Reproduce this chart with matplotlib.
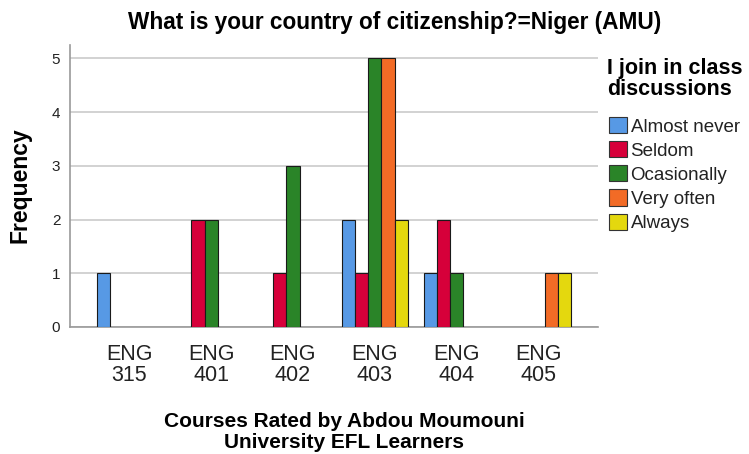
import matplotlib
matplotlib.use("Agg")
import matplotlib.pyplot as plt
import numpy as np
from matplotlib.patches import Patch

plt.rcParams['font.family'] = ['Liberation Sans', 'DejaVu Sans']

categories = ["ENG\n315", "ENG\n401", "ENG\n402", "ENG\n403", "ENG\n404", "ENG\n405"]
series_names = ["Almost never", "Seldom", "Ocasionally", "Very often", "Always"]
almost_never = [1, 0, 0, 2, 1, 0]
seldom = [0, 2, 1, 1, 2, 0]
ocasionally = [0, 2, 3, 5, 1, 0]
very_often = [0, 0, 0, 5, 0, 1]
always = [0, 0, 0, 2, 0, 1]
series_values = [almost_never, seldom, ocasionally, very_often, always]
colors = ["#5799e5", "#d6003a", "#2a8428", "#f26b26", "#e4d80e"]

fig = plt.figure(figsize=(7.49, 4.54), dpi=100)
ax = fig.add_axes([70/749, 1-327/454, 528/749, 282/454])

x = np.arange(len(categories))
w = 0.161
for i, (vals, c) in enumerate(zip(series_values, colors)):
    vals = np.array(vals, dtype=float)
    mask = vals > 0
    ax.bar(x[mask] + (i - 2) * w, vals[mask], width=w, color=c,
           edgecolor="#1a1a1a", linewidth=0.8, zorder=3)

ax.set_xlim(-0.727, 5.73)
ax.set_ylim(0, 5.25)
ax.set_yticks([0, 1, 2, 3, 4, 5])
ax.yaxis.grid(True, color="#cfcfcf", linewidth=1.3, zorder=0)
ax.set_axisbelow(True)
ax.set_xticks(x)
ax.set_xticklabels(categories, fontsize=15.5, color="#222222", linespacing=1.05)
ax.tick_params(axis='x', length=0, pad=12)
ax.tick_params(axis='y', length=0, pad=7, labelsize=11, labelcolor="#222222")
for s in ["top", "right"]:
    ax.spines[s].set_visible(False)
for s in ["left", "bottom"]:
    ax.spines[s].set_color("#999999")
    ax.spines[s].set_linewidth(1.2)

ax.set_ylabel("Frequency", fontsize=16.5, fontweight="bold")
ax.yaxis.set_label_coords(-0.072, 0.502)
fig.text(344/749, 1-432/454, "Courses Rated by Abdou Moumouni\nUniversity EFL Learners",
         ha="center", va="center", fontsize=15, fontweight="bold", linespacing=1.15)
fig.text(395/749, 1-23/454, "What is your country of citizenship?=Niger (AMU)",
         ha="center", va="center", fontsize=16.3, fontweight="bold")

fig.text(607/749, 1-79/454, "I join in class\ndiscussions", ha="left", va="center",
         multialignment="left", fontsize=15.5, fontweight="bold", linespacing=1.0)

handles = [Patch(facecolor=c, edgecolor="#333333", linewidth=0.8, label=n)
           for c, n in zip(colors, series_names)]
leg = fig.legend(handles=handles, loc="upper left", bbox_to_anchor=(609/749, 1-117/454),
                 frameon=False, fontsize=13.5,
                 handlelength=0.95, handleheight=0.95, handletextpad=0.2,
                 labelspacing=0.3, borderaxespad=0, borderpad=0)
for t in leg.get_texts():
    t.set_color("#222222")

fig.savefig("out.png", dpi=100)
